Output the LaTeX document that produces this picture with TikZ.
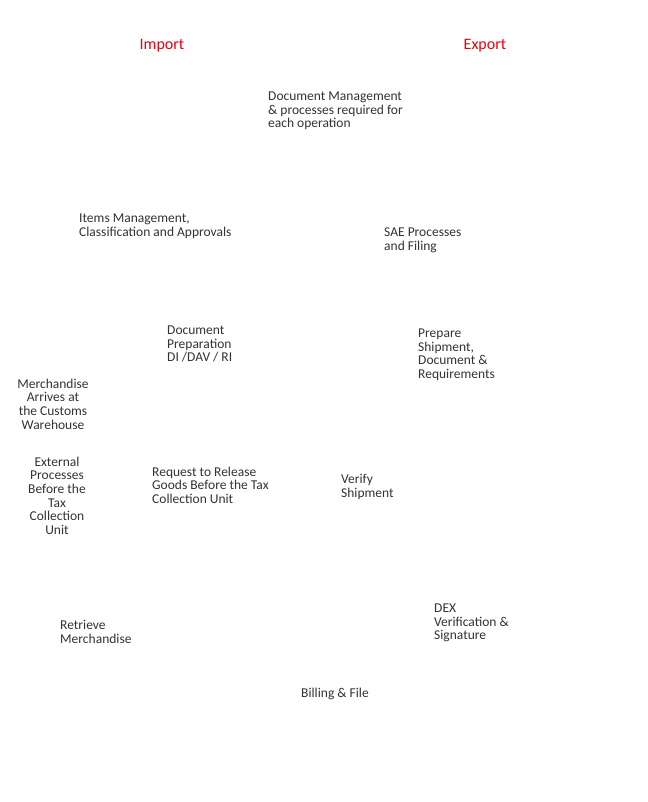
\documentclass[tikz,border=0pt]{standalone}
\usepackage{fontspec}
\setmainfont{Carlito}
\definecolor{txt}{HTML}{333333}
\definecolor{hdr}{HTML}{E8000B}
\begin{document}
\begin{tikzpicture}[x=1pt,y=-1pt,
  lbl/.style={inner sep=0pt,anchor=north west,align=left,text=txt,font=\fontsize{13.5}{13.7}\selectfont},
  clbl/.style={inner sep=0pt,anchor=north,align=center,text=txt,font=\fontsize{13.5}{13.7}\selectfont},
  hd/.style={inner sep=0pt,text=hdr,font=\fontsize{16}{18}\selectfont}]
\useasboundingbox[fill=white] (0,0) rectangle (647,802);
\node[hd] (imp) at (162,46) {Import};
\node[hd] (exp) at (485,46) {Export};
\node[lbl] (docm) at (268,91.5) {Document Management\\\& processes required for\\each operation};
\node[lbl] (items) at (79,213.5) {Items Management,\\Classification and Approvals};
\node[lbl] (sae) at (384,227.5) {SAE Processes\\and Filing};
\node[lbl] (prep) at (167,325.5) {Document\\Preparation\\DI /DAV / RI};
\node[lbl] (ship) at (418,328.5) {Prepare\\Shipment,\\Document \&\\Requirements};
\node[clbl] (arr) at (53,378.5) {Merchandise\\Arrives at\\the Customs\\Warehouse};
\node[clbl] (ext) at (57,456.5) {External\\Processes\\Before the\\Tax\\Collection\\Unit};
\node[lbl] (req) at (152,466.5) {Request to Release\\Goods Before the Tax\\Collection Unit};
\node[lbl] (ver) at (341,474.5) {Verify\\Shipment};
\node[lbl] (ret) at (60,620.5) {Retrieve\\Merchandise};
\node[lbl] (dex) at (434,603.5) {DEX\\Verification \&\\Signature};
\node[lbl] (bill) at (301,687.5) {Billing \& File};
\end{tikzpicture}
\end{document}
